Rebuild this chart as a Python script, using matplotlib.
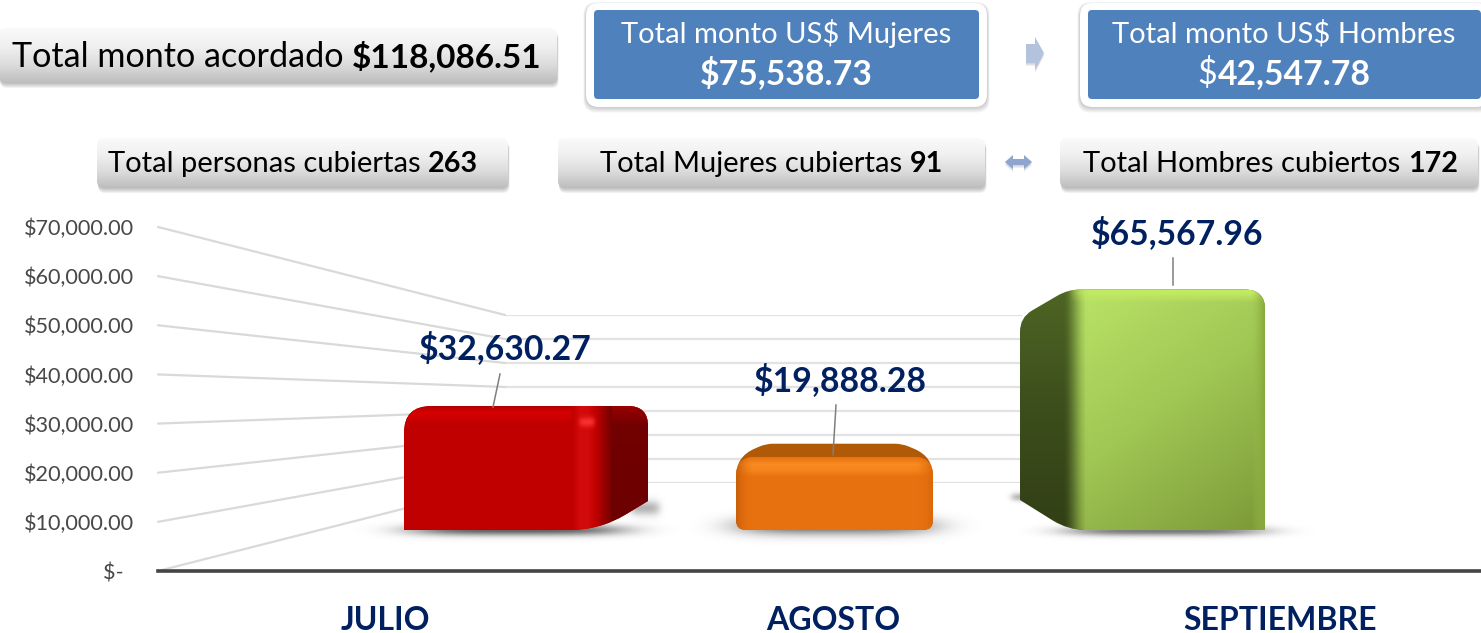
import numpy as np
import matplotlib
matplotlib.use("Agg")
import matplotlib.pyplot as plt
from matplotlib.colors import LinearSegmentedColormap, to_rgb
from matplotlib.path import Path
from matplotlib.patches import PathPatch

W, H = 1481, 633
NAVY = "#002060"

months = ["JULIO", "AGOSTO", "SEPTIEMBRE"]
amounts = [32630.27, 19888.28, 65567.96]
amount_labels = ["$32,630.27", "$19,888.28", "$65,567.96"]
axis_ticks = [0, 10000, 20000, 30000, 40000, 50000, 60000, 70000]
axis_labels = ["$-  ", "$10,000.00", "$20,000.00", "$30,000.00",
               "$40,000.00", "$50,000.00", "$60,000.00", "$70,000.00"]

total_text = "Total monto acordado "
total_value = "$118,086.51"
women_amount = "$75,538.73"
men_amount = "42,547.78"
people = [("Total personas cubiertas ", "263"),
          ("Total Mujeres cubiertas ", "91"),
          ("Total Hombres cubiertos ", "172")]

plt.rcParams["font.family"] = ["Lato", "DejaVu Sans"]
fig = plt.figure(figsize=(W / 100, H / 100), dpi=100)


def px_axes(x0, x1, ybot, ytop):
    a = fig.add_axes([x0 / W, 1 - ybot / H, (x1 - x0) / W, (ybot - ytop) / H])
    a.patch.set_alpha(0)
    return a


def pixel_layer():
    a = px_axes(0, W, H, 0)
    a.set_xlim(0, W)
    a.set_ylim(H, 0)
    a.axis("off")
    return a


def rpoly(points):
    # closed polygon, each corner (x, y, radius) rounded with a curve
    verts, codes = [], []
    n = len(points)
    for i, (x, y, r) in enumerate(points):
        p = np.array([x, y], float)
        a = np.array(points[i - 1][:2], float)
        b = np.array(points[(i + 1) % n][:2], float)
        if r > 0:
            p1 = p + (a - p) / np.linalg.norm(a - p) * r
            p2 = p + (b - p) / np.linalg.norm(b - p) * r
            verts += [p1, p, p2]
            codes += [Path.MOVETO if i == 0 else Path.LINETO, Path.CURVE3, Path.CURVE3]
        else:
            verts.append(p)
            codes.append(Path.MOVETO if i == 0 else Path.LINETO)
    verts.append(verts[0])
    codes.append(Path.CLOSEPOLY)
    return Path(verts, codes)


def rrect(x0, y0, x1, y1, r):
    return rpoly([(x0, y0, r), (x1, y0, r), (x1, y1, r), (x0, y1, r)])


def fill(ax, path, color, z=2, alpha=None):
    p = PathPatch(path, facecolor=color, edgecolor="none", alpha=alpha, zorder=z)
    ax.add_patch(p)
    return p


def grad(ax, extent, stops, vertical=True, clip=None, z=3):
    # gradient image, stops are colours (with alpha if wanted)
    cmap = LinearSegmentedColormap.from_list("g", stops)
    t = np.linspace(0, 1, 256)
    img = cmap(t)[:, None, :] if vertical else cmap(t)[None, :, :]
    x0, x1, y0, y1 = extent
    im = ax.imshow(img, extent=(x0, x1, y1, y0), aspect="auto", zorder=z,
                   interpolation="bilinear")
    if clip is not None:
        im.set_clip_path(PathPatch(clip, transform=ax.transData))
    ax.set_xlim(0, W)
    ax.set_ylim(H, 0)
    return im


def soft(ax, cx, cy, sx, sy, alpha, z=1, color="#595959"):
    xx, yy = np.meshgrid(np.linspace(-2, 2, 200), np.linspace(-2, 2, 80))
    img = np.zeros((80, 200, 4))
    img[..., :3] = to_rgb(color)
    img[..., 3] = alpha * np.exp(-xx ** 4) * np.exp(-yy ** 2 * 1.5)
    ax.imshow(img, extent=(cx - 2 * sx, cx + 2 * sx, cy + 2 * sy, cy - 2 * sy),
              aspect="auto", zorder=z)
    ax.set_xlim(0, W)
    ax.set_ylim(H, 0)


# back wall grid
ax_back = px_axes(505, 1022, 483, 315)
ax_back.set_xlim(505, 1022)
ax_back.set_ylim(0, 70000)
ax_back.hlines(axis_ticks, 505, 1022, color="#e2e2e2", lw=1.6)
ax_back.axis("off")

# front value axis with the tick labels
ax = px_axes(158, W, 571, 227)
ax.set_xlim(158, W)
ax.set_ylim(0, 70000)
ax.set_yticks(axis_ticks)
ax.set_yticklabels(axis_labels, fontsize=15.6, color="#484848")
ax.set_xticks([385, 833, 1280])
ax.set_xticklabels(months, fontsize=23, fontweight="bold", color=NAVY)
ax.tick_params(length=0)
ax.tick_params(axis="y", pad=17)
ax.tick_params(axis="x", pad=25)
for s in ["top", "left", "right"]:
    ax.spines[s].set_visible(False)
ax.spines["bottom"].set_color("#444444")
ax.spines["bottom"].set_linewidth(2.6)

# side walls, front tick to the same value on the back wall
for v in axis_ticks:
    x_b, y_b = ax_back.transData.transform((505, v))
    back = ax.transData.inverted().transform((x_b, y_b))
    ax.plot([158, back[0]], [v, back[1]], color="#d9d9d9", lw=1.6,
            solid_capstyle="round", zorder=1, clip_on=False)

under = pixel_layer()

# plane where the bars stand
ax_bar = px_axes(0, W, 529.5, 273.3)
ax_bar.set_xlim(0, W)
ax_bar.set_ylim(0, 70000)
ax_bar.axis("off")

over = pixel_layer()


def top_px(value):
    return H - ax_bar.transData.transform((0, value))[1]


t_red, t_org, t_grn = [top_px(v) for v in amounts]

# shadows on the floor
for s in [(517, 530, 108, 7, 0.95), (835, 526, 98, 11, 0.85), (1165, 531, 100, 6, 0.8),
          (1024, 497, 13, 5, 0.45), (645, 508, 15, 9, 0.45)]:
    soft(under, *s)

# red bar
sil_red = rpoly([(404, 530, 0), (404, t_red - 4, 27), (648, t_red - 4, 20), (648, 501, 0), (600, 530, 30)])
fill(under, sil_red, "#c00000", z=2)

# orange bar
sil_org = rpoly([(736, 530, 10), (736, t_org, 20), (766, t_org - 13, 7), (902, t_org - 13, 7), (933, t_org, 20), (933, 530, 10)])
fill(under, sil_org, "#b05a08", z=2)

# green bar
sil_grn = rpoly([(1020, 500, 0), (1020, t_grn + 28, 14), (1068, t_grn, 12), (1265, t_grn, 20), (1265, 530, 0), (1068, 530, 18)])
grad(under, (1015, 1270, t_grn, 530), ["#4e6524", "#3c4e1c", "#323f16"], clip=sil_grn, z=2)

# the bars themselves
bars = ax_bar.bar([490, 834.5, 1175], amounts, [172, 197, 180],
                  color=["#c00000", "#e8710f", "#8fae48"], zorder=2)
clips = [sil_red,
         rpoly([(736, 530, 10), (736, t_org, 20), (933, t_org, 20), (933, 530, 10)]),
         sil_grn]
for b, c in zip(bars, clips):
    b.set_clip_path(PathPatch(c, transform=over.transData))

# shading on the red bar
grad(over, (404, 648, t_red - 4, t_red + 14), ["#b00000", "#d60000", "#d00000", "#c0000000"], clip=sil_red)
grad(over, (572, 612, t_red - 4, 530), ["#c00000", "#d20a0a", "#d20a0a", "#c00000", "#980000", "#740000"], vertical=False, clip=sil_red)
grad(over, (612, 648, t_red - 4, t_red + 14), ["#980000", "#760000"], clip=sil_red)
grad(over, (612, 648, t_red + 14, 530), ["#720000", "#6c0000"], clip=sil_red)
soft(over, 587, t_red + 12, 8, 6, 0.9, z=5, color="#ff3535")

# shading on the orange bar
front_org = clips[1]
grad(over, (736, 933, t_org, t_org + 22), ["#e8710f", "#f98b22", "#f28219", "#e8710f00"], clip=front_org)
grad(over, (736, 752, t_org, 530), ["#c85f0a", "#e8710f00"], vertical=False, clip=front_org)
grad(over, (917, 933, t_org, 530), ["#e8710f00", "#d9680c"], vertical=False, clip=front_org)

# shading on the green bar, diagonal light from top left
xx, yy = np.meshgrid(np.linspace(0, 1, 205), np.linspace(0, 1, 240))
shade = np.clip(0.62 * yy + 0.38 * xx, 0, 1)
cm_grn = LinearSegmentedColormap.from_list("grn", ["#bbe668", "#a0c654", "#7c9a38"])
img = cm_grn(shade)
ramp = np.clip((xx * 205 - 2) / 26, 0, 1)
img[..., 3] = ramp * ramp * (3 - 2 * ramp)
im = over.imshow(img, extent=(1060, 1265, 530, t_grn), aspect="auto", zorder=3)
im.set_clip_path(PathPatch(sil_grn, transform=over.transData))
band = np.zeros((40, 205, 4))
band[..., :3] = to_rgb("#c2ea64")
by, bx = np.meshgrid(np.linspace(0, 1, 40), np.linspace(0, 1, 205), indexing="ij")
band[..., 3] = np.clip((bx * 205 - 8) / 24, 0, 1) * np.clip(1.3 - by * 1.3, 0, 1)
im = over.imshow(band, extent=(1060, 1265, t_grn + 13, t_grn), aspect="auto", zorder=4)
im.set_clip_path(PathPatch(sil_grn, transform=over.transData))
grad(over, (1252, 1265, t_grn, 530), ["#9cbe4a00", "#86a83c"], vertical=False, clip=sil_grn, z=4)
over.set_xlim(0, W)
over.set_ylim(H, 0)

# value labels and leaders
label_x = [505.5, 840, 1177]
label_gap = [62, 77, 56]
leader_tops = [(500, 374, 493, t_red - 3), (836, 405, 833, t_org - 2), (1173, 258, 1173, t_grn - 5)]
for lab, x, gap, v in zip(amount_labels, label_x, label_gap, amounts):
    over.text(x, top_px(v) - gap, lab, fontsize=24.3, fontweight="bold", color=NAVY,
              ha="center", va="center", parse_math=False, zorder=8)
for x0, y0, x1, y1 in leader_tops:
    over.plot([x0, x1], [y0, y1], color="#7f7f7f", lw=1.1, zorder=7)

r = fig.canvas.get_renderer()


def two_part(x, y, regular, bold, size, bold_size, color="black"):
    t = over.text(x, y, regular, fontsize=size, color=color, va="baseline",
                  parse_math=False, zorder=9)
    w = t.get_window_extent(r).width
    over.text(x + w, y, bold, fontsize=bold_size, color=color, va="baseline",
              fontweight="bold", parse_math=False, zorder=9)


def centered_pair(cx, y, left, right, size, color):
    # regular + bold pieces centred together
    t1 = over.text(0, y, left, fontsize=size, color=color, va="baseline", parse_math=False, zorder=9)
    t2 = over.text(0, y, right, fontsize=size, color=color, va="baseline", fontweight="bold", parse_math=False, zorder=9)
    w1 = t1.get_window_extent(r).width
    w2 = t2.get_window_extent(r).width
    t1.set_x(cx - (w1 + w2) / 2)
    t2.set_x(cx - (w1 + w2) / 2 + w1)


def grey_box(x0, y0, x1, y1, rad=7):
    for i in range(5, 0, -1):
        fill(over, rrect(x0 + 1, y0 + 4, x1 + i * 0.3, y1 + i, rad), "#404040", z=5, alpha=0.07)
    box = rrect(x0, y0, x1, y1, rad)
    grad(over, (x0, x1, y0, y1), ["#fafafa", "#f0f0f0", "#dcdcdc", "#bdbdbd"], clip=box, z=6)


def blue_box(x0, y0, x1, y1):
    for i in range(5, 0, -1):
        fill(over, rrect(x0 - i * 0.5, y0 + 3 - i * 0.8, x1 + i * 0.5, y1 + i * 1.1, 13), "#404040", z=5, alpha=0.055)
    fill(over, rrect(x0, y0, x1, y1, 13), "white", z=6)
    fill(over, rrect(x0 + 8, y0 + 7, x1 - 8, y1 - 8, 4), "#4f81bd", z=7)


grey_box(-1, 28, 557, 83)
two_part(12, 67, total_text, total_value, 24.6, 24)
grey_box(97, 138, 508, 188)
two_part(108, 172, *people[0], 21, 20.6)
grey_box(558, 138, 985, 188)
two_part(600, 172, *people[1], 21, 20.6)
grey_box(1060, 138, 1478, 188)
two_part(1083, 172, *people[2], 21, 20.6)

blue_box(586, 3, 987, 107)
blue_box(1080, 3, 1489, 107)
over.text(786, 43, "Total monto US$ Mujeres", fontsize=21, color="white", ha="center",
          va="baseline", parse_math=False, zorder=9)
over.text(786, 84, women_amount, fontsize=24.3, color="white", ha="center", va="baseline",
          fontweight="bold", parse_math=False, zorder=9)
over.text(1284, 43, "Total monto US$ Hombres", fontsize=21, color="white", ha="center",
          va="baseline", parse_math=False, zorder=9)
centered_pair(1284, 84, "$", men_amount, 24.3, "white")

# arrows between the boxes, with a faint shadow copy
arrow_pts = [(1026, 44), (1035, 44), (1035, 37), (1044, 53), (1035, 70), (1035, 63), (1026, 63)]
both_pts = [(1005, 162), (1013, 155), (1013, 159), (1024, 159), (1024, 155), (1032, 162),
            (1024, 169), (1024, 165), (1013, 165), (1013, 169)]
for pts, col in [(arrow_pts, "#b3c3de"), (both_pts, "#8ea6cf")]:
    for off in [3, 2, 1]:
        fill(over, rpoly([(x, y + off, 0) for x, y in pts]), "#808080", z=5, alpha=0.12)
    fill(over, rpoly([(x, y, 0) for x, y in pts]), col, z=6)

fig.savefig("out.png", dpi=100)
